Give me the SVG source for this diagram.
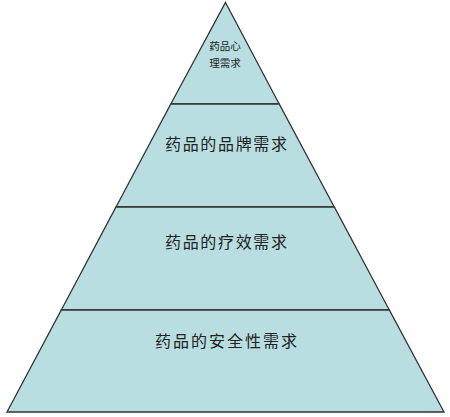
<svg xmlns="http://www.w3.org/2000/svg" width="450" height="417" viewBox="0 0 450 417">
<style>
.layer{fill:#b8dee1;stroke:#333;stroke-width:1.3;stroke-linejoin:miter}
.lbl{font-family:"Noto Sans CJK SC","Noto Sans CJK JP",sans-serif;fill:#222;text-anchor:middle}
.big{font-size:16px}
.small{font-size:10.5px}
</style>
<rect width="450" height="417" fill="#ffffff"/>
<g id="node-top">
<polygon class="layer" points="225.5,2.5 279.2,104 170.8,104"/>
<text class="lbl small" x="225" y="49.5">药品心</text>
<text class="lbl small" x="225" y="66.5">理需求</text>
</g>
<g id="node-brand">
<polygon class="layer" points="170.8,104 279.2,104 334.3,207 116,207"/>
<text class="lbl big" x="226" y="150" textLength="122" lengthAdjust="spacing">药品的品牌需求</text>
</g>
<g id="node-efficacy">
<polygon class="layer" points="116,207 334.3,207 389.3,310 61.3,310"/>
<text class="lbl big" x="226" y="248" textLength="122" lengthAdjust="spacing">药品的疗效需求</text>
</g>
<g id="node-safety">
<polygon class="layer" points="61.3,310 389.3,310 444,412 7,412"/>
<text class="lbl big" x="226" y="347" textLength="142" lengthAdjust="spacing">药品的安全性需求</text>
</g>
<g id="connectors"></g>
</svg>
